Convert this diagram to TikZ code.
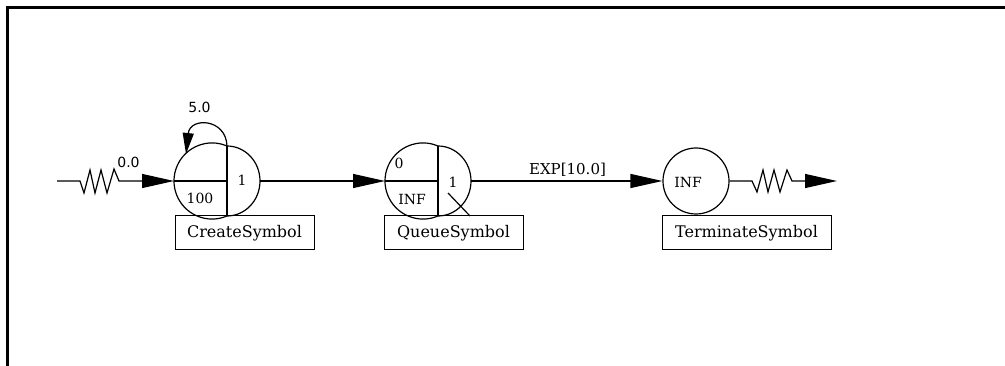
\documentclass[tikz,border=0pt]{standalone}
\usepackage{fontspec}
\setmainfont{DejaVu Serif}
\newfontfamily\labelsans{DejaVu Sans}
\usetikzlibrary{arrows.meta}
\begin{document}
\begin{tikzpicture}[x=1pt,y=-1pt,line width=1.2pt,
  flow/.style={-{Triangle[length=32pt,width=14pt]}},
  loopflow/.style={-{Triangle[length=21pt,width=11pt]}},
  namebox/.style={draw,line width=1pt,minimum height=34pt,inner sep=0pt,font=\fontsize{16}{18}\selectfont},
  inner/.style={inner sep=0pt,font=\fontsize{14}{16}\selectfont},
  rate/.style={inner sep=0pt,font=\labelsans\fontsize{14}{16}\selectfont},
  splitsym/.pic={
    % left part: a circle cut by the vertical divider
    \draw (0,-35) arc[start angle=-66.88,end angle=-293.12,radius=38.06];
    % right part: half circle on the divider
    \draw (0,-35) arc[start angle=-90,end angle=90,x radius=33,y radius=35];
    \draw (0,-35) -- (0,35) (-53,0) -- (0,0);
  }]
\useasboundingbox (0,0) rectangle (1005,366);

% frame
\draw[line width=3pt] (7.5,366) -- (7.5,8) -- (1005,8);

% create symbol
\pic (cr) at (227,181) {splitsym};
\coordinate (crin) at (174,181);
\coordinate (crout) at (260,181);
\coordinate (crtop) at (227,146);
\coordinate (crloop) at (186,154);
\node[inner] (crcount) at (200,198) {100};
\node[inner] (crserv) at (242,180) {1};
\node[namebox,minimum width=139pt] (crname) at (244.5,233) {CreateSymbol};

% queue symbol
\pic (qu) at (438,181) {splitsym};
\draw (448,193) -- (470,216);
\coordinate (quin) at (385,181);
\coordinate (quout) at (471,181);
\node[inner] (qulen) at (399,163) {0};
\node[inner] (qucap) at (412,199) {INF};
\node[inner] (quserv) at (453,182) {1};
\node[namebox,minimum width=139pt] (quname) at (453.5,233) {QueueSymbol};

% terminate symbol
\node[circle,draw,minimum size=66pt,inner sep=0pt] (term) at (696,181) {};
\node[inner] (termcap) at (688,182) {INF};
\node[namebox,minimum width=169pt] (termname) at (746.5,233) {TerminateSymbol};

% source and sink
\coordinate (src) at (57,181);
\coordinate (sink) at (837,181);

% connectors
\draw[flow] (src) -- (80,181) -- (84,193) -- (90,170) -- (95,193) -- (101,170)
  -- (107,193) -- (114,169) -- (119,181) -- (crin);
\node[rate] (inrate) at (128.5,162.5) {0.0};

\draw[loopflow] (crtop) .. controls (226,118) and (190,117) .. (crloop);
\node[rate] (looprate) at (199.5,107) {5.0};

\draw[flow] (crout) -- (quin);
\draw[flow] (quout) -- (term.west);
\node[inner,font=\fontsize{15}{17}\selectfont] (exp) at (567.5,170) {EXP[10.0]};

\draw[flow] (term.east) -- (752,181) -- (757,192) -- (763,170) -- (768,192)
  -- (774,170) -- (780,192) -- (787,170) -- (792,181) -- (sink);
\end{tikzpicture}
\end{document}
